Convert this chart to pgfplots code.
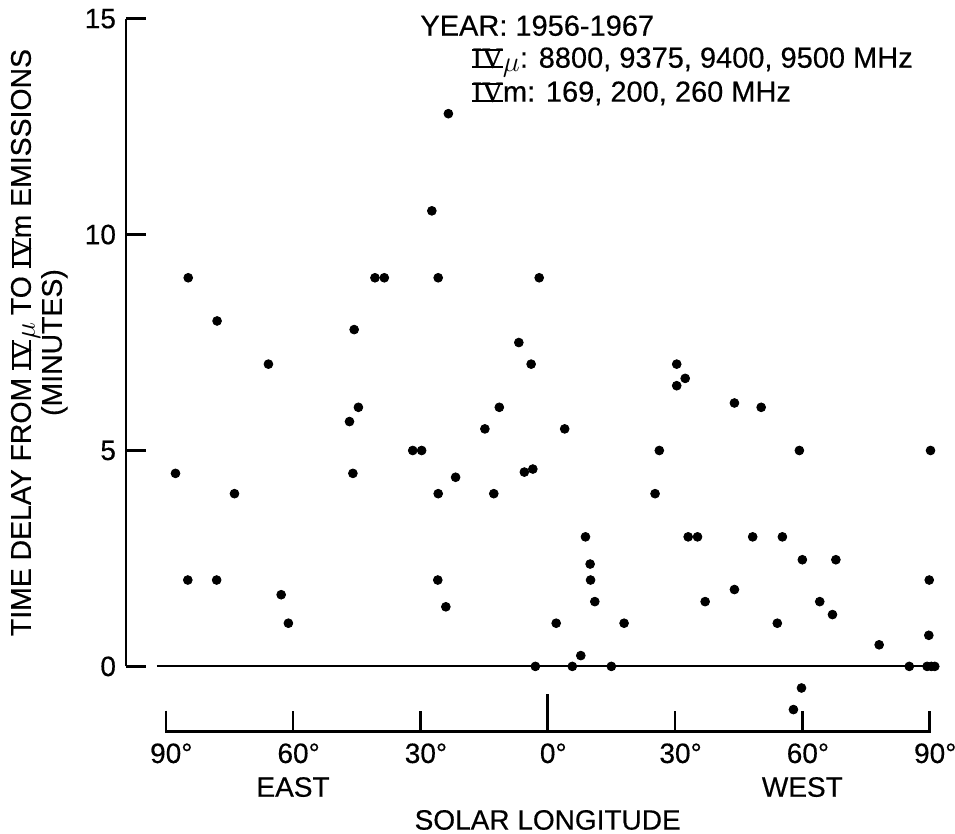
\documentclass[border=0pt]{standalone}
\usepackage{fontspec}
\setmainfont{Liberation Sans}[FakeBold=0.4]
\newfontfamily\romfont{Liberation Serif}[FakeBold=0.4]
\usepackage{pgfplots}
\pgfplotsset{compat=1.18}
\usepackage{pgfplotstable}

% roman numeral IV with bars above and below
\newcommand{\IV}{{\romfont\setbox0\hbox{IV}\rlap{\rule{\wd0}{0.07em}}\rlap{\rule[\dimexpr\ht0-0.07em\relax]{\wd0}{0.07em}}\box0}}
\newcommand{\mmu}{\raisebox{-0.25ex}{$\mu$}}

% solar longitude (east negative, west positive) vs delay in minutes
\pgfplotstableread{
lon delay
-23.4 12.8
-27.3 10.55
-84.7 9.0
-40.7 9.0
-38.5 9.0
-25.8 9.0
-2.0 9.0
-77.9 8.0
-45.6 7.8
-6.8 7.5
-65.8 7.0
-3.9 7.0
30.4 7.0
32.4 6.67
30.4 6.5
44.0 6.1
-44.6 6.0
-11.4 6.0
50.3 6.0
-46.7 5.67
-14.8 5.5
4.0 5.5
-31.8 5.0
-29.7 5.0
26.3 5.0
59.3 5.0
90.2 5.0
-3.5 4.57
-5.5 4.5
-87.7 4.47
-45.9 4.47
-21.7 4.38
-73.8 4.0
-25.8 4.0
-12.7 4.0
25.3 4.0
8.9 3.0
33.1 3.0
35.3 3.0
48.3 3.0
55.3 3.0
60.0 2.47
67.9 2.47
10.0 2.37
-84.8 2.0
-78.0 2.0
-25.9 2.0
10.1 2.0
89.9 2.0
44.0 1.78
-62.8 1.66
11.1 1.5
37.1 1.5
64.1 1.5
-24.0 1.38
67.1 1.2
-61.1 1.0
2.0 1.0
18.0 1.0
54.1 1.0
89.8 0.72
78.1 0.5
7.8 0.25
-2.9 0
5.8 0
15.0 0
85.2 0
89.4 0
90.4 0
91.2 0
59.8 -0.5
57.9 -1.0
}\delays

\begin{document}
\begin{tikzpicture}
\begin{axis}[
    x=2.122pt, y=21.59pt,
    xmin=-99.36, xmax=91.66, ymin=0, ymax=15,
    axis x line=none, axis y line*=left,
    clip=false,
    ytick={0,5,10,15},
    tick align=inside,
    major tick length=10pt,
    axis line style={line width=1.3pt},
    ytick style={line width=1.3pt, black},
    /pgf/number format/assume math mode=true,
    yticklabel style={font=\fontsize{14}{16}\selectfont, xshift=-1.5pt},
    ylabel={TIME DELAY FROM \IV\mmu\ TO \IV m EMISSIONS\\(MINUTES)},
    ylabel style={align=center, font=\fontsize{14.2}{15.5}\selectfont,
        anchor=south, inner sep=0pt, at={(axis description cs:-0.0715,0.5)}},
]
\addplot[only marks, mark=*, mark size=2.2pt, black] table[x=lon, y=delay] {\delays};

% zero line
\draw[line width=1.1pt] (axis cs:-92.1,0) -- (axis cs:91.66,0);

% bottom longitude scale
\draw[line width=1.2pt] (axis cs:-90,-1.026) -- (axis cs:-90,-1.505) -- (axis cs:90,-1.505) -- (axis cs:90,-1.026);
\draw[line width=1.2pt] (axis cs:-60,-1.505) -- (axis cs:-60,-1.026);
\draw[line width=1.2pt] (axis cs:-30,-1.505) -- (axis cs:-30,-1.026);
\draw[line width=1.2pt] (axis cs:0,-1.505) -- (axis cs:0,-0.632);
\draw[line width=1.2pt] (axis cs:30,-1.505) -- (axis cs:30,-1.026);
\draw[line width=1.2pt] (axis cs:60,-1.505) -- (axis cs:60,-1.026);

\begin{scope}[every node/.style={font=\fontsize{14}{16}\selectfont, anchor=base, inner sep=0pt}]
\node at (axis cs:-90,-2.237) {90\rlap{°}};
\node at (axis cs:-60,-2.237) {60\rlap{°}};
\node at (axis cs:-30,-2.237) {30\rlap{°}};
\node at (axis cs:0,-2.237) {0\rlap{°}};
\node at (axis cs:30,-2.237) {30\rlap{°}};
\node at (axis cs:60,-2.237) {60\rlap{°}};
\node at (axis cs:90,-2.237) {90\rlap{°}};
\end{scope}

\begin{scope}[every node/.style={font=\fontsize{14}{16}\selectfont, inner sep=0pt}]
\node[anchor=base] at (axis cs:-60,-3.018) {EAST};
\node[anchor=base] at (axis cs:60,-3.018) {WEST};
\node[anchor=base] at (axis cs:0,-3.78) {SOLAR LONGITUDE};
\end{scope}

\begin{scope}[every node/.style={font=\fontsize{14.5}{16}\selectfont, inner sep=0pt, anchor=base west}]
\node at (axis cs:-30.09,14.606) {YEAR: 1956-1967};
\node at (axis cs:-17.84,13.865) {\IV\mmu: 8800, 9375, 9400, 9500 MHz};
\node at (axis cs:-17.84,13.078) {\IV m: 169, 200, 260 MHz};
\end{scope}

\coordinate (bbsw) at (axis cs:-129.05,-3.873);
\coordinate (bbne) at (axis cs:95.97,15.433);
\end{axis}
\pgfresetboundingbox
\useasboundingbox (bbsw) rectangle (bbne);
\end{tikzpicture}
\end{document}
